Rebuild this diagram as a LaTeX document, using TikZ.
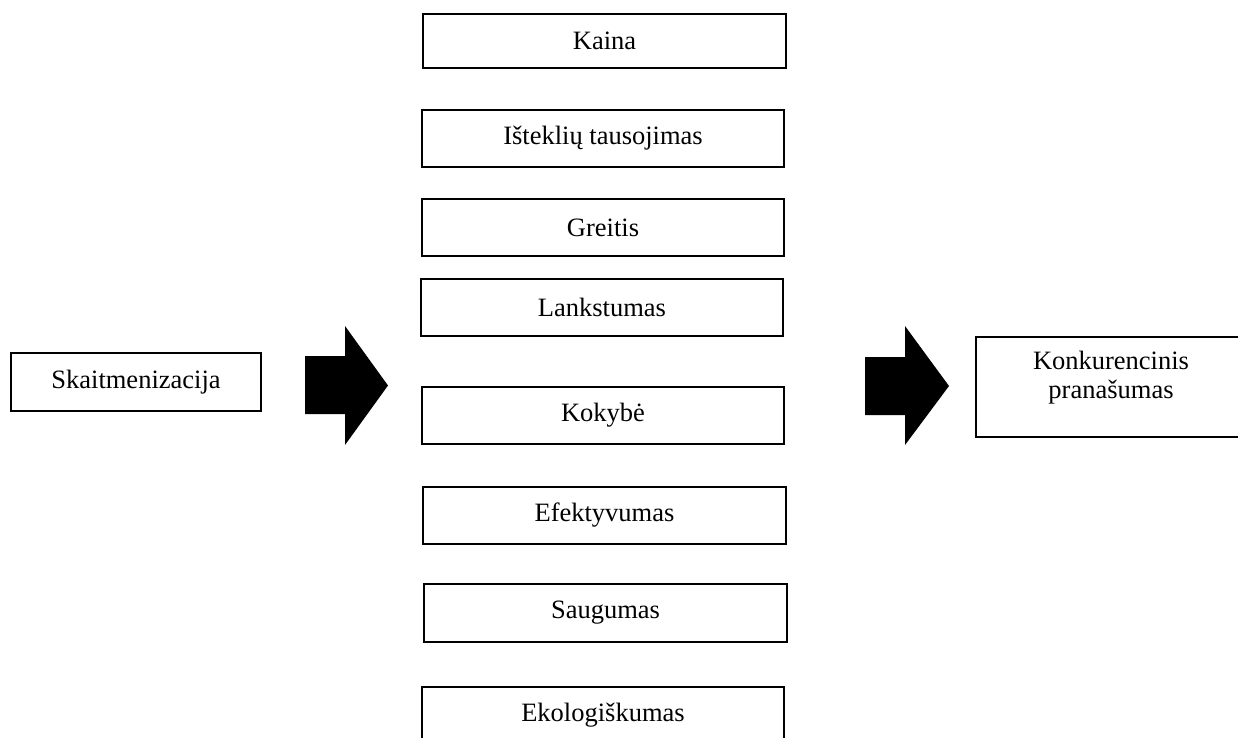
\documentclass[tikz,border=0pt]{standalone}
\usepackage{fontspec}
\setmainfont{Liberation Serif}
\begin{document}
\begin{tikzpicture}[x=1pt,y=-1pt,
  txt/.style={font=\fontsize{26.5}{29}\selectfont, align=center, inner sep=0pt},
  box/.style={txt, draw=black, line width=1.2pt, minimum width=362pt, minimum height=57pt},
  blockarrow/.style={fill=black, draw=none}]
\useasboundingbox (0,0) rectangle (1238,737);
\clip (0,0) rectangle (1238,737);

% source box
\node[box, minimum width=250pt, minimum height=58pt] (src) at (136,382) {Skaitmenizacija};

% factor column
\node[box, minimum width=363pt, minimum height=54pt] (kaina) at (604.5,41) {Kaina};
\node[box] (istekliai) at (603,138.5) {Išteklių tausojimas};
\node[box] (greitis) at (603,227.5) {Greitis};
\node[box] (lankstumas) at (602,307.5) {Lankstumas};
\node[box] (kokybe) at (603,415.5) {Kokybė};
\node[box, minimum width=363pt] (efektyvumas) at (604.5,515.5) {Efektyvumas};
\node[box, minimum width=363pt, minimum height=58pt] (saugumas) at (605.5,613) {Saugumas};
\node[box] (ekologiskumas) at (603,715.5) {Ekologiškumas};

% result box, text set towards the top
\node[box, minimum width=270pt, minimum height=100pt] (result) at (1111,387) {};
\node[txt] (resulttext) at (1111,377.5) {Konkurencinis\\pranašumas};

% block arrows
\path[blockarrow] (305,356) -- (345,356) -- (345,326) -- (388,385.5)
  -- (345,445) -- (345,414) -- (305,414) -- cycle;
\path[blockarrow] (865,357) -- (905,357) -- (905,326) -- (949,386)
  -- (905,445) -- (905,415) -- (865,415) -- cycle;
\end{tikzpicture}
\end{document}
